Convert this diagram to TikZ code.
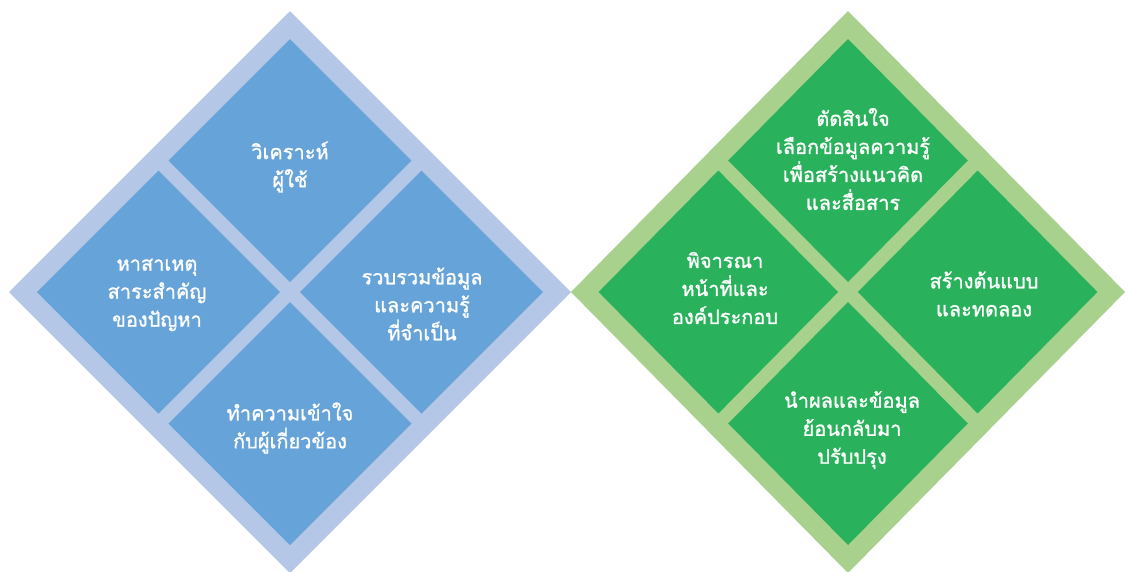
\documentclass[tikz,border=0pt]{standalone}
\usepackage{fontspec}
\newfontfamily\thaifont[Script=Thai,FakeBold=1.2]{Loma}
\definecolor{blueout}{HTML}{B4C7E7}
\definecolor{bluein}{HTML}{66A3D8}
\definecolor{greenout}{HTML}{A9D18E}
\definecolor{greenin}{HTML}{29B25B}
\begin{document}
\begin{tikzpicture}[x=1pt,y=-1pt,
  lbl/.style={text=white, font=\thaifont\fontsize{20}{28}\selectfont, align=center, inner sep=0pt}]
\useasboundingbox (0,0) rectangle (1128,571);
% left (blue) diamond
\begin{scope}[shift={(290,292)}]
  \fill[blueout] (0,-281) -- (281,0) -- (0,281) -- (-281,0) -- cycle;
  \foreach \dx/\dy in {0/-131.5, 131.5/0, 0/131.5, -131.5/0}
    \fill[bluein] (\dx,\dy) ++(0,-121.5) -- ++(121.5,121.5) -- ++(-121.5,121.5) -- ++(-121.5,-121.5) -- cycle;
\end{scope}
% right (green) diamond
\begin{scope}[shift={(848,292)}, xscale=0.986]
  \fill[greenout] (0,-281) -- (281,0) -- (0,281) -- (-281,0) -- cycle;
  \foreach \dx/\dy in {0/-131.5, 131.5/0, 0/131.5, -131.5/0}
    \fill[greenin] (\dx,\dy) ++(0,-121.5) -- ++(121.5,121.5) -- ++(-121.5,121.5) -- ++(-121.5,-121.5) -- cycle;
\end{scope}
% blue labels
\node[lbl] (bt) at (290,167) {วิเคราะห์\\ผู้ใช้};
\node[lbl] (bl) at (157,295) {หาสาเหตุ\\สาระสำคัญ\\ของปัญหา};
\node[lbl] (br) at (422,304) {รวบรวมข้อมูล\\และความรู้\\ที่จำเป็น};
\node[lbl] (bb) at (290,428) {ทำความเข้าใจ\\กับผู้เกี่ยวข้อง};
% green labels
\node[lbl] (gt) at (853,159) {ตัดสินใจ\\เลือกข้อมูลความรู้\\เพื่อสร้างแนวคิด\\และสื่อสาร};
\node[lbl] (gl) at (725,288) {พิจารณา\\หน้าที่และ\\องค์ประกอบ};
\node[lbl] (gr) at (984,294) {สร้างต้นแบบ\\และทดลอง};
\node[lbl] (gb) at (852,430) {นำผลและข้อมูล\\ย้อนกลับมา\\ปรับปรุง};
\end{tikzpicture}
\end{document}
